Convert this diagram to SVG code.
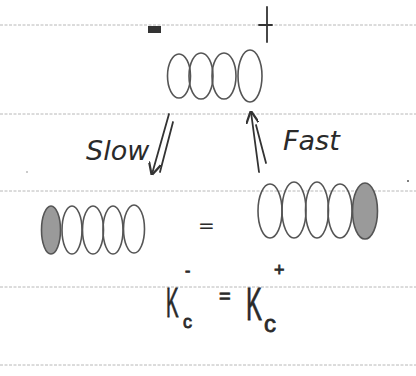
<svg xmlns="http://www.w3.org/2000/svg" width="416" height="376" viewBox="0 0 416 376">
<defs>
<style>
.rule{stroke:#b8b8b8;stroke-width:1;stroke-dasharray:3 1.5;fill:none}
.bead{fill:none;stroke:#555;stroke-width:1.6}
.filled{fill:#9a9a9a;stroke:#555;stroke-width:1.6}
.pen{stroke:#333;stroke-width:1.8;fill:none;stroke-linecap:round}
.hand{font-family:"DejaVu Sans","Liberation Sans",sans-serif;font-style:italic;fill:#2a2a2a}
.eq{font-family:"Liberation Sans","DejaVu Sans",sans-serif;fill:#2a2a2a;stroke:#2a2a2a;stroke-width:0.8}
</style>
<marker id="head" viewBox="0 0 10 10" refX="9" refY="5" markerWidth="7" markerHeight="7" orient="auto">
<path d="M0,0 L10,5 L0,10" fill="none" stroke="#333" stroke-width="1.8"/>
</marker>
</defs>
<rect width="416" height="376" fill="#fff"/>
<g id="rules">
<line class="rule" x1="0" y1="25" x2="416" y2="25"/>
<line class="rule" x1="0" y1="114" x2="416" y2="114"/>
<line class="rule" x1="0" y1="191" x2="416" y2="191"/>
<line class="rule" x1="0" y1="287" x2="416" y2="287"/>
<line class="rule" x1="0" y1="365" x2="416" y2="365"/>
</g>
<g id="marks">
<rect x="148" y="26" width="13" height="7" fill="#333"/>
<line class="pen" x1="267" y1="7" x2="267" y2="42"/>
<line class="pen" x1="259" y1="25" x2="272" y2="25"/>
<circle cx="408" cy="181" r="1" fill="#555"/>
<circle cx="27" cy="172" r="0.8" fill="#888"/>
</g>
<g id="top-chain">
<ellipse class="bead" cx="179" cy="76" rx="11.5" ry="22"/>
<ellipse class="bead" cx="201" cy="76" rx="12" ry="23"/>
<ellipse class="bead" cx="224" cy="76" rx="12" ry="23"/>
<ellipse class="bead" cx="250" cy="76" rx="12" ry="26"/>
</g>
<g id="left-chain">
<ellipse class="filled" cx="51" cy="230" rx="9.5" ry="24"/>
<ellipse class="bead" cx="72" cy="230" rx="10" ry="24"/>
<ellipse class="bead" cx="93" cy="230" rx="10.5" ry="24"/>
<ellipse class="bead" cx="113" cy="230" rx="10" ry="24"/>
<ellipse class="bead" cx="134" cy="229" rx="10.5" ry="24"/>
</g>
<g id="right-chain">
<ellipse class="bead" cx="270" cy="211" rx="12" ry="27"/>
<ellipse class="bead" cx="294" cy="210" rx="12" ry="28"/>
<ellipse class="bead" cx="317" cy="210" rx="11.5" ry="28"/>
<ellipse class="bead" cx="340" cy="211" rx="12" ry="27"/>
<ellipse class="filled" cx="365" cy="211" rx="12.5" ry="28"/>
</g>
<g id="connectors">
<line class="pen" x1="169" y1="114" x2="152" y2="174" marker-end="url(#head)"/>
<line class="pen" x1="173" y1="122" x2="160" y2="172"/>
<line class="pen" x1="259" y1="172" x2="251" y2="112" marker-end="url(#head)"/>
<line class="pen" x1="256" y1="125" x2="266" y2="163"/>
</g>
<g id="labels">
<text class="hand" x="86" y="160" font-size="27">Slow</text>
<text class="hand" x="283" y="150" font-size="27">Fast</text>
<text class="hand" x="198" y="232" font-size="20">=</text>
</g>
<g id="equation">
<text class="eq" transform="translate(166,317) scale(0.45,1)" font-size="42">K</text>
<text class="eq" x="183" y="328" font-size="18">c</text>
<text class="eq" x="185" y="276" font-size="16">-</text>
<text class="eq" x="219" y="303" font-size="20">=</text>
<text class="eq" transform="translate(246,320) scale(0.52,1)" font-size="46">K</text>
<text class="eq" x="264" y="332" font-size="24">c</text>
<text class="eq" x="274" y="276" font-size="18">+</text>
</g>
</svg>
